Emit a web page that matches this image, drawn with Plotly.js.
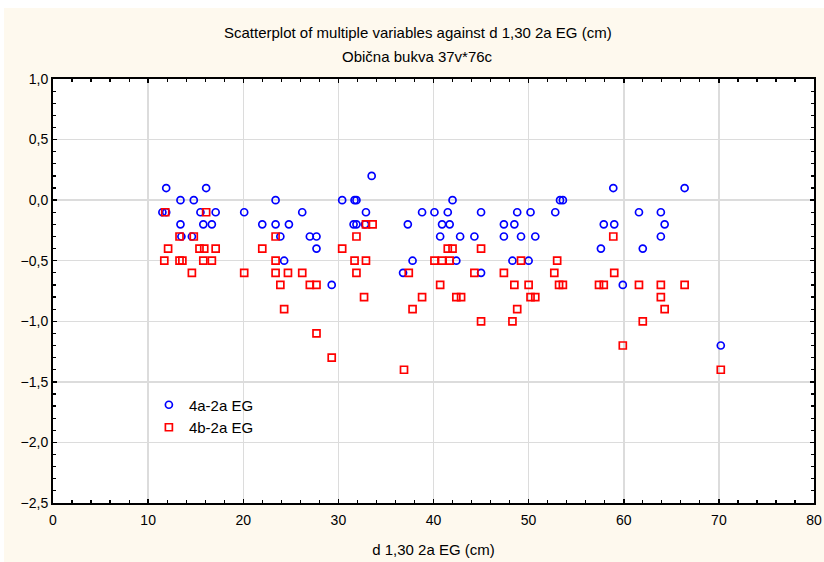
<!DOCTYPE html>
<html>
<head>
<meta charset="utf-8">
<script src="https://cdn.plot.ly/plotly-3.0.1.min.js"></script>
<style>
html,body{margin:0;padding:0;background:#ffffff;}
#chart{position:absolute;left:4px;top:8px;width:820px;height:554px;}
</style>
</head>
<body>
<div id="chart"></div>
<script>
// 4a-2a EG series (x = d 1,30 2a EG (cm))
var xA = [11.5,11.9,11.9,13.4,13.4,13.5,14.6,14.8,15.5,15.8,16.1,16.7,17.1,20.1,22.0,23.4,23.4,23.9,24.3,24.8,26.2,27.0,27.7,27.7,29.3,30.4,31.6,31.7,31.9,31.9,32.8,32.9,33.5,36.8,37.3,37.8,38.8,40.1,40.7,40.9,41.5,41.7,42.0,42.4,42.8,44.3,45.0,45.0,47.4,47.4,48.3,48.5,48.8,49.2,50.0,50.2,50.7,52.8,53.3,53.6,57.6,57.9,58.9,59.0,59.9,61.6,62.0,63.9,63.9,64.3,66.4,70.2];
var yA = [-0.1,0.1,-0.1,0.0,-0.2,-0.3,-0.3,0.0,-0.1,-0.2,0.1,-0.2,-0.1,-0.1,-0.2,0.0,-0.2,-0.3,-0.5,-0.2,-0.1,-0.3,-0.3,-0.4,-0.7,0.0,-0.2,0.0,0.0,-0.2,-0.2,-0.1,0.2,-0.6,-0.2,-0.5,-0.1,-0.1,-0.3,-0.2,-0.1,-0.2,0.0,-0.5,-0.3,-0.3,-0.1,-0.6,-0.2,-0.3,-0.5,-0.2,-0.1,-0.3,-0.5,-0.1,-0.3,-0.1,0.0,0.0,-0.4,-0.2,0.1,-0.2,-0.7,-0.1,-0.4,-0.1,-0.3,-0.2,0.1,-1.2];
// 4b-2a EG series
var xB = [11.8,12.1,11.7,13.3,13.3,13.6,14.6,14.8,15.4,15.8,15.9,16.1,16.7,17.1,20.1,22.0,23.4,23.4,23.4,23.9,24.3,24.7,26.2,27.0,27.7,27.7,29.3,30.4,31.7,31.9,31.9,32.7,32.9,32.9,33.6,36.9,37.4,37.8,38.8,40.1,40.7,40.9,41.5,41.7,42.0,42.4,42.9,44.3,45.0,45.0,47.4,48.3,48.5,48.8,49.2,50.0,50.2,50.7,52.7,53.0,53.2,53.6,57.4,57.9,58.9,59.0,59.9,61.6,62.0,63.9,63.9,64.3,66.4,70.2];
var yB = [-0.1,-0.4,-0.5,-0.3,-0.5,-0.5,-0.6,-0.3,-0.4,-0.5,-0.4,-0.1,-0.5,-0.4,-0.6,-0.4,-0.3,-0.5,-0.6,-0.7,-0.9,-0.6,-0.6,-0.7,-0.7,-1.1,-1.3,-0.4,-0.5,-0.3,-0.6,-0.8,-0.2,-0.5,-0.2,-1.4,-0.6,-0.9,-0.8,-0.5,-0.7,-0.5,-0.4,-0.5,-0.4,-0.8,-0.8,-0.6,-0.4,-1.0,-0.6,-1.0,-0.7,-0.9,-0.5,-0.7,-0.8,-0.8,-0.6,-0.5,-0.7,-0.7,-0.7,-0.7,-0.3,-0.6,-1.2,-0.7,-1.0,-0.7,-0.8,-0.9,-0.7,-1.4];
var seriesNames = ['4a-2a EG','4b-2a EG'];
var xTicks = [0,10,20,30,40,50,60,70,80];
var yTicks = [1.0,0.5,0.0,-0.5,-1.0,-1.5,-2.0,-2.5];
var titleMain = 'Scatterplot of multiple variables against d 1,30 2a EG (cm)';
var titleSub = 'Obična bukva 37v*76c';
var xTitle = 'd 1,30 2a EG (cm)';

var font = 'Liberation Sans, Arial, sans-serif';
var traces = [
  {x: xA, y: yA, name: seriesNames[0], type: 'scatter', mode: 'markers',
   marker: {symbol: 'circle-open', size: 7, color: '#0000ff', line: {width: 1.7, color: '#0000ff'}}},
  {x: xB, y: yB, name: seriesNames[1], type: 'scatter', mode: 'markers',
   marker: {symbol: 'square-open', size: 7, color: '#ff0000', line: {width: 1.7, color: '#ff0000'}}}
];
var axisCommon = {
  showline: true, linecolor: '#000000', linewidth: 2, mirror: 'ticks',
  ticks: 'inside', ticklen: 4, tickwidth: 1.5, tickcolor: '#000000',
  showgrid: true, gridcolor: '#dcdcdc', gridwidth: 1.5, zeroline: false,
  tickfont: {family: font, size: 14, color: '#000000'}
};
var layout = {
  width: 820, height: 554,
  paper_bgcolor: '#fef9ee', plot_bgcolor: '#ffffff',
  margin: {l: 49, r: 10, t: 71, b: 59, pad: 0},
  separators: ', ',
  showlegend: true,
  annotations: [
    {text: titleMain, xref: 'paper', yref: 'paper', x: 0.4796, y: 1.1085, xanchor: 'center', yanchor: 'middle',
     showarrow: false, font: {family: font, size: 15, color: '#000000'}},
    {text: titleSub, xref: 'paper', yref: 'paper', x: 0.4796, y: 1.0519, xanchor: 'center', yanchor: 'middle',
     showarrow: false, font: {family: font, size: 15, color: '#000000'}}
  ],
  xaxis: Object.assign({}, axisCommon, {
    range: [0, 80], tickmode: 'array', tickvals: xTicks, ticktext: xTicks.map(String),
    ticklabelstandoff: 3,
    minor: {ticks: 'inside', dtick: 2, ticklen: 3, tickwidth: 1.2, tickcolor: '#000000', showgrid: false},
    title: {text: xTitle, font: {family: font, size: 15, color: '#000000'}, standoff: 18}
  }),
  yaxis: Object.assign({}, axisCommon, {
    range: [-2.5, 1.0], tickmode: 'array', tickvals: yTicks, tickformat: '.1f',
    minor: {ticks: 'inside', dtick: 0.1, ticklen: 3, tickwidth: 1.2, tickcolor: '#000000', showgrid: false}
  }),
  legend: {x: 0.126, y: 0.27, xanchor: 'left', yanchor: 'top', bgcolor: 'rgba(0,0,0,0)',
           font: {family: font, size: 15, color: '#000000'}, itemwidth: 30, tracegroupgap: 0}
};
Plotly.newPlot('chart', traces, layout, {displayModeBar: false, staticPlot: true});
</script>
</body>
</html>
